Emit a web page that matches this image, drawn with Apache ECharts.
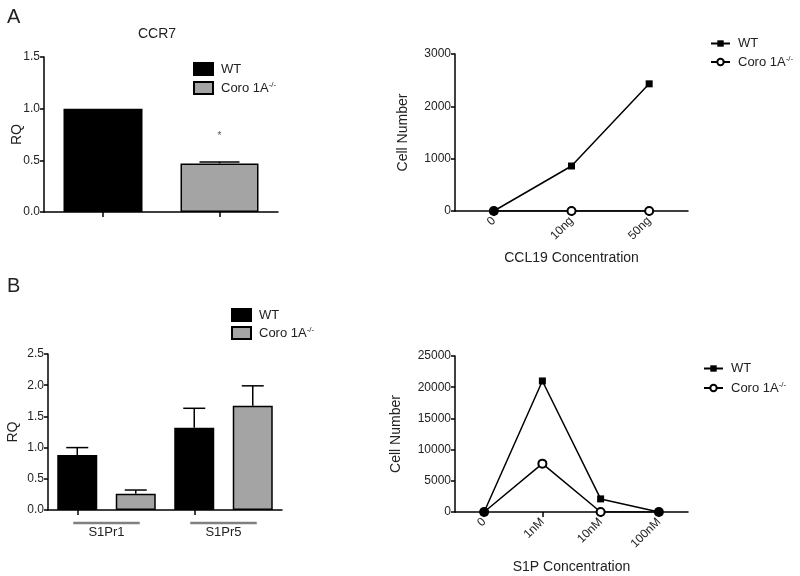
<!DOCTYPE html>
<html><head><meta charset="utf-8">
<script src="https://cdn.jsdelivr.net/npm/echarts@6/dist/echarts.min.js"></script>
<style>html,body{margin:0;padding:0;background:#fff}#c{width:800px;height:576px}</style>
</head><body><div id="c"></div>
<script>
// ---- data ----
const ccr7Cats = ['WT', 'Coro 1A-/-'];
const ccr7Mean = [1.0, 0.47];
const ccr7Sem = [0, 0.015];

const s1prGenes = ['S1Pr1', 'S1Pr5'];
const s1prWT = [0.88, 1.32];
const s1prWTSem = [0.12, 0.31];
const s1prKO = [0.26, 1.67];
const s1prKOSem = [0.06, 0.32];

const ccl19Cats = ['0', '10ng', '50ng'];
const ccl19WT = [0, 860, 2430];
const ccl19KO = [0, 0, 0];

const s1pCats = ['0', '1nM', '10nM', '100nM'];
const s1pWT = [0, 21000, 2100, 0];
const s1pKO = [0, 7750, 0, 0];

// ---- build ----
const FONT = 'Liberation Sans, Arial, sans-serif';
const TXT = '#222';
const chart = echarts.init(document.getElementById('c'), null, {renderer: 'canvas'});

function valAxis(grid, max, interval, name, gap, fmt) {
  return {
    type: 'value', gridIndex: grid, min: 0, max: max, interval: interval,
    name: name, nameLocation: 'middle', nameGap: gap, nameMoveOverlap: false,
    nameTextStyle: {fontFamily: FONT, fontSize: 14, color: TXT},
    axisLine: {show: true, lineStyle: {color: '#000', width: 1.5}},
    axisTick: {show: true, length: 4, lineStyle: {color: '#000', width: 1.5}},
    axisLabel: {fontFamily: FONT, fontSize: 12, color: TXT, margin: 4, formatter: fmt || function (v) { return String(v); }},
    splitLine: {show: false}
  };
}
function catAxis(grid, data, extra) {
  return Object.assign({
    type: 'category', gridIndex: grid, data: data, boundaryGap: true,
    axisLine: {show: true, lineStyle: {color: '#000', width: 1.5}},
    axisTick: {show: true, alignWithLabel: true, length: 5, lineStyle: {color: '#000', width: 1.5}},
    axisLabel: {fontFamily: FONT, fontSize: 12, color: TXT},
    splitLine: {show: false}
  }, extra || {});
}

// error bars (upward only)
function errSeries(name, xi, yi, pts, capHalf) {
  return {
    type: 'custom', name: name, xAxisIndex: xi, yAxisIndex: yi, z: 5, clip: false,
    data: pts,
    renderItem: function (params, api) {
      const lo = api.coord([api.value(0), api.value(1)]);
      const hi = api.coord([api.value(0), api.value(2)]);
      return {type: 'group', children: [
        {type: 'line', shape: {x1: lo[0], y1: lo[1], x2: hi[0], y2: hi[1]}, style: {stroke: '#000', lineWidth: 1.5}},
        {type: 'line', shape: {x1: hi[0] - capHalf, y1: hi[1], x2: hi[0] + capHalf, y2: hi[1]}, style: {stroke: '#000', lineWidth: 1.5}}
      ]};
    }
  };
}

const s1prCats = [];
const s1prWTData = [], s1prKOData = [];
s1prGenes.forEach(function (g, i) {
  s1prCats.push(g + ' WT', g + ' KO');
  s1prWTData.push(s1prWT[i], '-');
  s1prKOData.push('-', s1prKO[i]);
});

const barWT = {color: '#000', borderColor: '#000', borderWidth: 1.5};
const barKO = {color: '#a4a4a4', borderColor: '#000', borderWidth: 1.5};

function legendFmt(name) {
  return name.indexOf('WT') === 0 ? '{n|WT}' : '{n|Coro 1A}{s|-/-}';
}
const legendText = {
  fontFamily: FONT, fontSize: 13, color: TXT,
  rich: {n: {fontFamily: FONT, fontSize: 13, color: TXT, lineHeight: 14, padding: [0, 0, 0, 3]},
         s: {fontFamily: FONT, fontSize: 8, color: TXT, verticalAlign: 'top', lineHeight: 14}}
};

const option = {
  animation: false,
  backgroundColor: '#fff',
  title: [
    {text: 'A', left: 2, top: 2, textStyle: {fontFamily: FONT, fontSize: 20, fontWeight: 'normal', color: TXT}},
    {text: 'B', left: 2, top: 271, textStyle: {fontFamily: FONT, fontSize: 20, fontWeight: 'normal', color: TXT}},
    {text: 'CCR7', left: 152, top: 22, textAlign: 'center', textStyle: {fontFamily: FONT, fontSize: 14, fontWeight: 'normal', color: TXT}}
  ],
  legend: [
    {data: ['WT_ccr7', 'KO_ccr7'], left: 188, top: 57, orient: 'vertical', itemWidth: 19, itemHeight: 12, itemGap: 5,
     icon: 'rect', formatter: legendFmt, textStyle: legendText, selectedMode: false},
    {data: ['WT_ccl19', 'KO_ccl19'], left: 705, top: 32, orient: 'vertical', itemWidth: 19, itemHeight: 8, itemGap: 5,
     formatter: legendFmt, textStyle: legendText, selectedMode: false},
    {data: ['WT_s1pr', 'KO_s1pr'], left: 226, top: 303, orient: 'vertical', itemWidth: 19, itemHeight: 12, itemGap: 4,
     icon: 'rect', formatter: legendFmt, textStyle: legendText, selectedMode: false},
    {data: ['WT_s1p', 'KO_s1p'], left: 698, top: 357, orient: 'vertical', itemWidth: 19, itemHeight: 8, itemGap: 6,
     formatter: legendFmt, textStyle: legendText, selectedMode: false}
  ],
  grid: [
    {left: 44, top: 57, width: 234, height: 155},
    {left: 455, top: 54, width: 233, height: 157},
    {left: 48, top: 354, width: 234, height: 156},
    {left: 455, top: 356, width: 233, height: 156}
  ],
  xAxis: [
    catAxis(0, ccr7Cats, {axisLabel: {show: false}}),
    catAxis(1, ccl19Cats, {name: 'CCL19 Concentration', nameLocation: 'middle', nameGap: 40,
      nameTextStyle: {fontFamily: FONT, fontSize: 14, color: TXT},
      axisLabel: {fontFamily: FONT, fontSize: 12, color: TXT, rotate: 45, margin: 8}}),
    catAxis(2, s1prCats, {axisLabel: {show: false}}),
    catAxis(3, s1pCats, {name: 'S1P Concentration', nameLocation: 'middle', nameGap: 48,
      nameTextStyle: {fontFamily: FONT, fontSize: 14, color: TXT},
      axisLabel: {fontFamily: FONT, fontSize: 12, color: TXT, rotate: 45, margin: 8}}),
    {type: 'category', gridIndex: 2, data: s1prGenes, position: 'bottom',
     axisLine: {show: false}, axisTick: {show: false}, splitLine: {show: false},
     axisLabel: {fontFamily: FONT, fontSize: 13, color: TXT, margin: 16}}
  ],
  yAxis: [
    valAxis(0, 1.5, 0.5, 'RQ', 20, function (v) { return v.toFixed(1); }),
    valAxis(1, 3000, 1000, 'Cell Number', 45),
    valAxis(2, 2.5, 0.5, 'RQ', 28, function (v) { return v.toFixed(1); }),
    valAxis(3, 25000, 5000, 'Cell Number', 52)
  ],
  series: [
    // CCR7 bars
    {type: 'bar', name: 'WT_ccr7', xAxisIndex: 0, yAxisIndex: 0, barWidth: 79, barGap: '-100%',
     itemStyle: barWT, data: [ccr7Mean[0], '-']},
    {type: 'bar', name: 'KO_ccr7', xAxisIndex: 0, yAxisIndex: 0, barWidth: 78, barGap: '-100%',
     itemStyle: barKO,
     data: ['-', {value: ccr7Mean[1], label: {show: true, position: 'top', distance: 22, formatter: '*',
       fontFamily: FONT, fontSize: 10, color: '#555'}}]},
    errSeries('err_ccr7', 0, 0, ccr7Mean.map(function (m, i) { return ccr7Sem[i] > 0 ? [i, m, m + ccr7Sem[i]] : null; }).filter(Boolean), 20),
    // CCL19 lines
    {type: 'line', name: 'WT_ccl19', xAxisIndex: 1, yAxisIndex: 1, data: ccl19WT, symbol: 'rect', symbolSize: 7,
     itemStyle: {color: '#000'}, lineStyle: {color: '#000', width: 1.5}, z: 3},
    {type: 'line', name: 'KO_ccl19', xAxisIndex: 1, yAxisIndex: 1, data: ccl19KO, symbol: 'emptyCircle', symbolSize: 8,
     itemStyle: {color: '#000', borderWidth: 1.2}, lineStyle: {color: '#000', width: 1.5}, z: 2},
    // S1Pr bars
    {type: 'bar', name: 'WT_s1pr', xAxisIndex: 2, yAxisIndex: 2, barWidth: 40, barGap: '-100%',
     itemStyle: barWT, data: s1prWTData},
    {type: 'bar', name: 'KO_s1pr', xAxisIndex: 2, yAxisIndex: 2, barWidth: 40, barGap: '-100%',
     itemStyle: barKO, data: s1prKOData},
    errSeries('err_s1pr', 2, 2, s1prGenes.map(function (g, i) {
      return [[2 * i, s1prWT[i], s1prWT[i] + s1prWTSem[i]], [2 * i + 1, s1prKO[i], s1prKO[i] + s1prKOSem[i]]];
    }).reduce(function (a, b) { return a.concat(b); }, []), 11),
    // group underline
    {type: 'custom', name: 'groups', xAxisIndex: 2, yAxisIndex: 2, clip: false, z: 1,
     data: s1prGenes.map(function (g, i) { return [2 * i, 2 * i + 1]; }),
     renderItem: function (params, api) {
       const a = api.coord([api.value(0), 0]);
       const b = api.coord([api.value(1), 0]);
       return {type: 'line', shape: {x1: a[0] - 4, y1: a[1] + 13, x2: b[0] + 4, y2: b[1] + 13},
               style: {stroke: '#808080', lineWidth: 2.5}};
     }},
    // S1P lines
    {type: 'line', name: 'WT_s1p', xAxisIndex: 3, yAxisIndex: 3, data: s1pWT, symbol: 'rect', symbolSize: 7,
     itemStyle: {color: '#000'}, lineStyle: {color: '#000', width: 1.5}, z: 3},
    {type: 'line', name: 'KO_s1p', xAxisIndex: 3, yAxisIndex: 3, data: s1pKO, symbol: 'emptyCircle', symbolSize: 8,
     itemStyle: {color: '#000', borderWidth: 1.2}, lineStyle: {color: '#000', width: 1.5}, z: 2}
  ]
};
chart.setOption(option);
</script>
</body></html>
